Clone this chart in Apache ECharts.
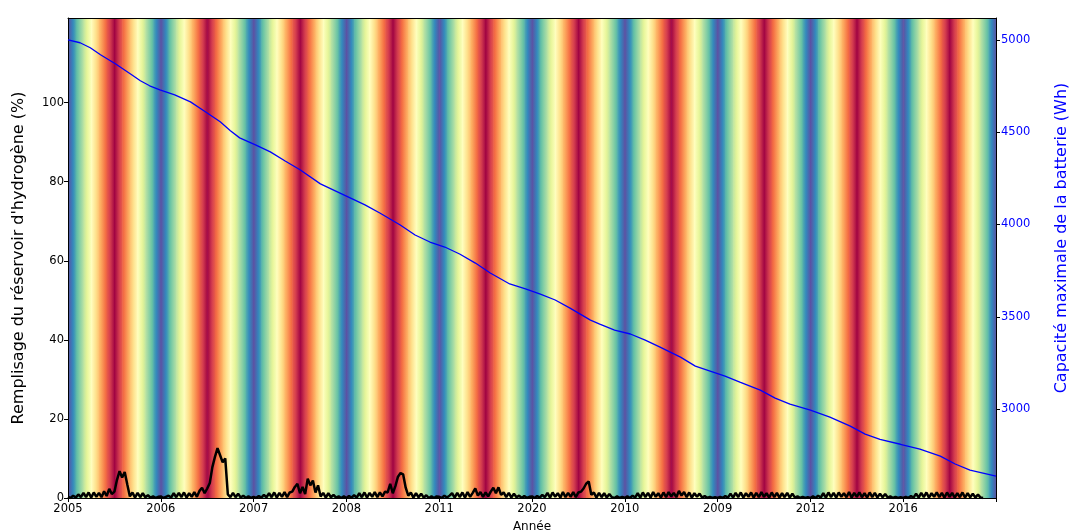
<!DOCTYPE html>
<html>
<head>
<meta charset="utf-8">
<script src="https://cdn.jsdelivr.net/npm/echarts@6/dist/echarts.min.js"></script>
<style>
html,body{margin:0;padding:0;background:#fff;}
#chart{width:1070px;height:532px;}
</style>
</head>
<body>
<div id="chart"></div>
<script>
// libellés de l'axe des années (tels qu'affichés)
var YEAR_LABELS = ['2005','2006','2007','2008','2011','2020','2010','2009','2012','2016'];
var H2_TICKS = [0,20,40,60,80,100];
var BAT_TICKS = [3000,3500,4000,4500,5000];
var H2_MAX = 121.4;
var BAT_MIN = 2519, BAT_MAX = 5118;

// profil saisonnier du fond (position dans la palette Spectral, 0 = rouge, 1 = violet), un point par mois
var SEASON = [1.0,0.83,0.67,0.5,0.33,0.17,0.0,0.17,0.33,0.5,0.67,0.83,1.0];

// capacité maximale de la batterie : temps (années depuis le début) / Wh
var BAT_T = [0,0.13,0.24,0.35,0.51,0.67,0.78,0.88,0.99,1.15,1.32,1.48,1.64,1.75,1.85,2.02,2.18,2.34,2.5,2.72,2.88,3.04,3.2,3.36,3.58,3.74,3.9,4.06,4.22,4.39,4.55,4.76,4.93,5.09,5.25,5.41,5.63,5.73,5.89,6.06,6.22,6.38,6.6,6.76,6.92,7.08,7.24,7.46,7.62,7.78,8.0,8.21,8.43,8.59,8.75,8.97,9.18,9.4,9.56,9.72,10];
var BAT_WH = [5000,4984,4957,4919,4870,4816,4778,4751,4729,4702,4664,4610,4556,4507,4469,4431,4393,4344,4296,4220,4182,4144,4106,4062,3997,3943,3905,3878,3840,3791,3737,3678,3651,3623,3591,3547,3482,3461,3428,3407,3374,3336,3282,3233,3206,3179,3146,3103,3060,3027,2995,2957,2908,2865,2837,2810,2784,2746,2703,2670,2637];

// remplissage du réservoir d'hydrogène (%), 36 points par an
var H2_Y0 = [0.3,0.0,0.6,0.1,0.9,0.2,1.3,0.2,1.4,0.1,1.4,0.3,1.3,0.2,1.7,0.5,2.3,1.0,1.6,4.6,6.8,5.2,6.6,3.4,0.4,1.4,0.1,1.3,0.2,1.2,0.2,0.7,0.1,0.4,0.0,0.3];
var H2_Y1 = [0.4,0.0,0.3,0.6,0.1,1.2,0.2,1.3,0.2,1.4,0.1,1.2,0.3,1.5,0.3,1.8,2.6,1.2,2.4,3.8,7.8,10.4,12.6,10.8,9.0,10.0,0.9,0.2,1.3,0.2,1.1,0.1,0.6,0.0,0.4,0.0];
var H2_Y2 = [0.3,0.0,0.5,0.1,0.8,0.2,1.2,0.2,1.4,0.1,1.3,0.3,1.5,0.2,1.4,1.6,2.8,3.6,1.2,2.8,1.0,4.9,3.2,4.4,1.4,3.2,0.4,1.3,0.1,1.2,0.2,0.8,0.1,0.4,0.0,0.4];
var H2_Y3 = [0.0,0.5,0.1,0.7,0.1,1.2,0.2,1.4,0.1,1.3,0.3,1.5,0.2,1.4,0.4,1.6,1.4,3.6,1.2,3.0,5.4,6.3,6.0,2.6,0.6,1.4,0.1,1.2,0.2,1.1,0.1,0.7,0.0,0.4,0.0,0.4];
var H2_Y4 = [0.3,0.0,0.6,0.1,0.6,1.2,0.1,1.3,0.2,1.4,0.1,1.5,0.3,1.3,2.4,0.6,1.5,0.3,1.4,0.4,1.6,2.6,1.2,2.7,0.8,1.4,0.2,1.3,0.1,1.1,0.2,0.6,0.0,0.5,0.0,0.3];
var H2_Y5 = [0.4,0.0,0.5,0.1,0.8,0.2,1.3,0.1,1.4,0.3,1.2,0.1,1.5,0.2,1.3,0.3,1.5,0.2,1.4,1.6,2.4,3.6,4.2,0.8,1.4,0.1,1.3,0.2,1.2,0.1,1.0,0.2,0.0,0.4,0.0,0.3];
var H2_Y6 = [0.0,0.4,0.0,0.6,0.1,1.2,0.1,1.4,0.2,1.3,0.1,1.5,0.3,1.2,0.1,1.4,0.2,1.5,0.4,1.3,0.2,1.8,0.6,1.5,0.2,1.4,0.1,1.2,0.3,1.1,0.1,0.5,0.0,0.3,0.0,0.2];
var H2_Y7 = [0.0,0.3,0.0,0.5,0.1,1.1,0.1,1.3,0.2,1.4,0.1,1.2,0.3,1.4,0.1,1.3,0.2,1.5,0.3,1.2,0.1,1.4,0.2,1.3,0.1,1.2,0.2,1.3,0.1,1.1,0.1,0.4,0.0,0.3,0.0,0.2];
var H2_Y8 = [0.0,0.4,0.0,0.6,0.1,1.2,0.1,1.4,0.2,1.3,0.1,1.4,0.3,1.2,0.2,1.5,0.1,1.3,0.3,1.4,0.2,1.2,0.1,1.4,0.2,1.3,0.1,1.1,0.2,1.0,0.1,0.4,0.0,0.3,0.0,0.2];
var H2_Y9 = [0.0,0.3,0.0,0.5,0.1,1.1,0.1,1.3,0.2,1.4,0.1,1.2,0.3,1.4,0.2,1.3,0.1,1.4,0.3,1.3,0.1,1.2,0.2,1.4,0.1,1.2,0.2,1.1,0.1,0.9,0.1,0.0];
var H2_YEARS = [H2_Y0,H2_Y1,H2_Y2,H2_Y3,H2_Y4,H2_Y5,H2_Y6,H2_Y7,H2_Y8,H2_Y9];

// palette Spectral
var SPECTRAL = ['#9e0142','#d53e4f','#f46d43','#fdae61','#fee08b','#ffffbf','#e6f598','#abdda4','#66c2a5','#3288bd','#5e4fa2'];
function hexRgb(h){ return [parseInt(h.substr(1,2),16),parseInt(h.substr(3,2),16),parseInt(h.substr(5,2),16)]; }
var SPEC_RGB = SPECTRAL.map(hexRgb);
function spectral(v){
	v = Math.max(0, Math.min(1, v));
	var p = v * (SPEC_RGB.length - 1);
	var i = Math.min(Math.floor(p), SPEC_RGB.length - 2);
	var f = p - i;
	var a = SPEC_RGB[i], b = SPEC_RGB[i + 1];
	return 'rgb(' + Math.round(a[0] + (b[0]-a[0])*f) + ',' + Math.round(a[1] + (b[1]-a[1])*f) + ',' + Math.round(a[2] + (b[2]-a[2])*f) + ')';
}

// fond : un segment par mois, répété chaque année
var bgData = [];
for (var y = 0; y < YEAR_LABELS.length; y++) {
	for (var m = 0; m < SEASON.length - 1; m++) {
		bgData.push([y + m/12, y + (m+1)/12, SEASON[m], SEASON[m+1]]);
	}
}

// séries
var h2Data = [];
H2_YEARS.forEach(function(arr, y){
	arr.forEach(function(v, i){ h2Data.push([y + i/36, v]); });
});
var batData = BAT_T.map(function(t, i){ return [t, BAT_WH[i]]; });

var FONT = 'DejaVu Sans';
var chart = echarts.init(document.getElementById('chart'));
chart.setOption({
	animation: false,
	grid: {left: 68, right: 74, top: 18, bottom: 34},
	xAxis: [{
		type: 'value', min: 0, max: 10, interval: 1, position: 'bottom',
		axisLine: {show: true, onZero: false, lineStyle: {color: '#000', width: 1}},
		axisTick: {show: true, inside: false, length: 4, lineStyle: {color: '#000'}},
		axisLabel: {margin: 5, color: '#000', fontFamily: FONT, fontSize: 11.5,
			formatter: function(v){ return YEAR_LABELS[Math.round(v)] || ''; }},
		splitLine: {show: false}
	}, {
		type: 'value', min: 0, max: 10, position: 'top',
		axisLine: {show: true, onZero: false, lineStyle: {color: '#000', width: 1}},
		axisTick: {show: false}, axisLabel: {show: false}, splitLine: {show: false}
	}],
	yAxis: [{
		type: 'value', min: 0, max: H2_MAX, position: 'left',
		axisLine: {show: true, onZero: false, lineStyle: {color: '#000', width: 1}},
		axisTick: {show: true, length: 4, customValues: H2_TICKS, lineStyle: {color: '#000'}},
		axisLabel: {customValues: H2_TICKS, margin: 4, color: '#000', fontFamily: FONT, fontSize: 11.5},
		splitLine: {show: false}
	}, {
		type: 'value', min: BAT_MIN, max: BAT_MAX, position: 'right',
		axisLine: {show: true, onZero: false, lineStyle: {color: '#000', width: 1}},
		axisTick: {show: true, length: 4, customValues: BAT_TICKS, lineStyle: {color: '#000'}},
		axisLabel: {customValues: BAT_TICKS, margin: 5, color: '#0000ff', fontFamily: FONT, fontSize: 11.5,
			formatter: function(v){ return String(v); }},
		splitLine: {show: false}
	}],
	graphic: [
		{type: 'text', x: 19, y: 258, rotation: Math.PI/2,
			style: {text: "Remplisage du réservoir d'hydrogène (%)", fill: '#000', font: '16px "DejaVu Sans"', textAlign: 'center', textVerticalAlign: 'middle'}},
		{type: 'text', x: 1062, y: 238, rotation: Math.PI/2,
			style: {text: 'Capacité maximale de la batterie (Wh)', fill: '#0000ff', font: '16px "DejaVu Sans"', textAlign: 'center', textVerticalAlign: 'middle'}},
		{type: 'text', x: 532, y: 527,
			style: {text: 'Année', fill: '#000', font: '12px "DejaVu Sans"', textAlign: 'center', textVerticalAlign: 'middle'}}
	],
	series: [{
		type: 'custom', xAxisIndex: 0, yAxisIndex: 0, z: -1, silent: true,
		encode: {x: [0, 1]},
		renderItem: function(params, api){
			var t0 = api.value(0), t1 = api.value(1), v0 = api.value(2), v1 = api.value(3);
			var a = api.coord([t0, H2_MAX]), b = api.coord([t1, 0]);
			var stops = [];
			for (var k = 0; k <= 8; k++) {
				stops.push({offset: k/8, color: spectral(v0 + (v1 - v0) * k/8)});
			}
			return {type: 'rect',
				shape: {x: a[0], y: a[1], width: b[0] - a[0] + 0.6, height: b[1] - a[1]},
				style: {fill: new echarts.graphic.LinearGradient(0, 0, 1, 0, stops)}};
		},
		data: bgData
	}, {
		name: 'Hydrogène', type: 'line', xAxisIndex: 0, yAxisIndex: 0,
		showSymbol: false, symbol: 'none',
		lineStyle: {color: '#000', width: 2.5},
		data: h2Data
	}, {
		name: 'Batterie', type: 'line', xAxisIndex: 0, yAxisIndex: 1,
		showSymbol: false, symbol: 'none',
		lineStyle: {color: '#0000ff', width: 1.3},
		data: batData
	}]
});
</script>
</body>
</html>
